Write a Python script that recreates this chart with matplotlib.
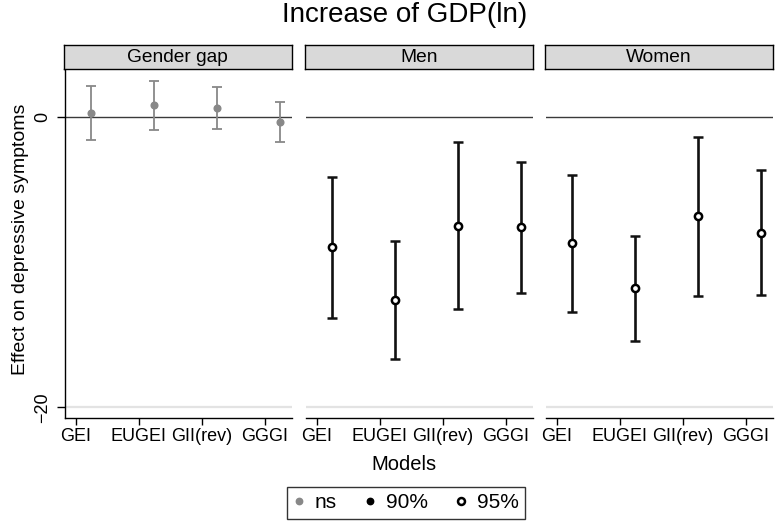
import numpy as np
import matplotlib
matplotlib.use('Agg')
import matplotlib.pyplot as plt
from matplotlib.lines import Line2D

plt.rcParams['font.family'] = ['Liberation Sans', 'DejaVu Sans']

# DATOS
models = ['GEI', 'EUGEI', 'GII(rev)', 'GGGI']
panels = ['Gender gap', 'Men', 'Women']

gap_est = [0.29, 0.81, 0.61, -0.35]
gap_lo  = [-1.57, -0.90, -0.81, -1.75]
gap_hi  = [2.15, 2.47, 2.06, 1.05]

men_est = [-8.98, -12.61, -7.49, -7.60]
men_lo  = [-13.83, -16.67, -13.25, -12.15]
men_hi  = [-4.14, -8.53, -1.71, -3.09]

women_est = [-8.71, -11.80, -6.83, -7.98]
women_lo  = [-13.42, -15.43, -12.33, -12.27]
women_hi  = [-4.00, -8.20, -1.38, -3.68]

sig_levels = ['ns', '95%', '95%']

estimates = [gap_est, men_est, women_est]
lowers    = [gap_lo, men_lo, women_lo]
uppers    = [gap_hi, men_hi, women_hi]

# FIGURA (coordenadas en pixeles -> fracciones)
W, H = 775, 524
fig = plt.figure(figsize=(W / 100, H / 100), dpi=100)

lefts   = [65, 306, 546]
pw      = 227
p_top   = 69.3
p_bot   = 418
s_top   = 44.5

x_pos = np.arange(1, len(models) + 1)
offset = 0.24

for k in range(3):
    ax = fig.add_axes([lefts[k] / W, 1 - p_bot / H, pw / W, (p_bot - p_top) / H])
    est = np.array(estimates[k])
    lo  = np.array(lowers[k])
    hi  = np.array(uppers[k])
    xx  = x_pos + offset

    ax.axhline(-20, color='#e3e3e3', linewidth=1.6, zorder=0)
    ax.axhline(0, color='#3a3a3a', linewidth=1.0, zorder=1)

    if sig_levels[k] == 'ns':
        ax.errorbar(xx, est, yerr=[est - lo, hi - est], fmt='o', color='#888888',
                    ecolor='#888888', elinewidth=1.3, capsize=3.4, capthick=1.3,
                    markersize=4.8, zorder=3)
    else:
        ax.errorbar(xx, est, yerr=[est - lo, hi - est], fmt='o', color='black',
                    ecolor='#111111', elinewidth=1.9, capsize=3.4, capthick=1.9,
                    markersize=5.2, markerfacecolor='white', markeredgewidth=1.8,
                    zorder=3)

    ax.set_xlim(0.83, 0.83 + pw / 63.0)
    ax.set_ylim(-20.74, 3.28)
    ax.set_xticks(x_pos)
    ax.set_xticklabels(models, fontsize=13)
    ax.tick_params(axis='x', length=5, width=1, pad=2.5)

    for s in ['top', 'right']:
        ax.spines[s].set_visible(False)
    ax.spines['bottom'].set_linewidth(1)
    if k == 0:
        ax.set_yticks([0, -20])
        ax.set_yticklabels(['0', '\u221220'], fontsize=13, rotation=90, va='center')
        ax.tick_params(axis='y', length=6, width=1, pad=4)
        ax.spines['left'].set_linewidth(1)
    else:
        ax.set_yticks([])
        ax.spines['left'].set_visible(False)

    # tira con el titulo del panel
    sax = fig.add_axes([(lefts[k] - 1.5) / W, 1 - p_top / H, (pw + 1.5) / W, (p_top - s_top) / H])
    sax.set_facecolor('#d9d9d9')
    sax.set_xticks([])
    sax.set_yticks([])
    for s in sax.spines.values():
        s.set_linewidth(1)
        s.set_color('black')
    sax.text(0.5, 0.47, panels[k], ha='center', va='center', fontsize=13.8,
             transform=sax.transAxes)

fig.text(405 / W, 1 - 15.5 / H, 'Increase of GDP(ln)', ha='center', va='center', fontsize=20)
fig.text(403.5 / W, 1 - 465 / H, 'Models', ha='center', va='center', fontsize=14.5)
fig.text(20.5 / W, 1 - 239 / H, 'Effect on depressive symptoms', ha='center', va='center',
         rotation=90, fontsize=14)

handles = [
    Line2D([], [], linestyle='none', marker='o', color='#888888', markersize=4.6),
    Line2D([], [], linestyle='none', marker='o', color='black', markersize=4.6),
    Line2D([], [], linestyle='none', marker='o', color='black', markerfacecolor='white',
           markeredgewidth=1.8, markersize=5.0),
]
leg = fig.legend(handles, ['ns', '90%', '95%'], loc='center', ncol=3,
                 bbox_to_anchor=(406 / W, 1 - 503 / H), fontsize=15,
                 frameon=True, fancybox=False, edgecolor='black', handlelength=0.6,
                 handletextpad=0.45, columnspacing=1.3, borderpad=0.3)
leg.get_frame().set_linewidth(1)

plt.savefig('out.png', dpi=100)
